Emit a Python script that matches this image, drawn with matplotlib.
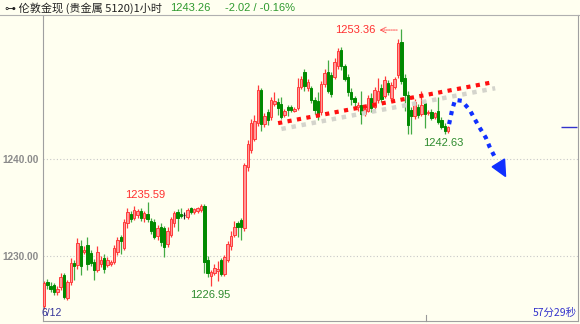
import matplotlib
matplotlib.use("Agg")
from matplotlib import pyplot as plt
from matplotlib.lines import Line2D
from matplotlib.patches import Polygon

plt.rcParams['font.family'] = ['Noto Sans CJK SC', 'DejaVu Sans']
NUM_FONT = ['Liberation Sans', 'DejaVu Sans']

# hourly candles (open, close, high, low)
opens = [1224.8, 1227.3, 1226.9, 1227.0, 1226.3, 1226.8, 1228.0, 1225.7, 1227.3, 1229.3,
         1229.1, 1231.0, 1230.4, 1231.1, 1230.3, 1229.4, 1228.6, 1229.2, 1229.8, 1229.1,
         1229.2, 1229.4, 1230.4, 1232.0, 1230.8, 1233.4, 1234.3, 1233.9, 1234.2, 1234.6,
         1233.9, 1234.3, 1233.6, 1233.5, 1232.1, 1233.0, 1232.9, 1231.2, 1232.2, 1233.4,
         1234.5, 1234.3, 1234.2, 1234.0, 1234.9, 1234.5, 1234.6, 1234.7, 1235.2, 1229.6,
         1227.9, 1228.3, 1228.5, 1229.6, 1228.1, 1229.6, 1231.0, 1232.2, 1233.4, 1233.7,
         1232.9, 1239.2, 1240.9, 1242.1, 1243.7, 1247.1, 1243.6, 1244.8, 1244.3, 1245.7,
         1245.9, 1245.7, 1244.5, 1245.4, 1245.4, 1245.0, 1245.3, 1247.4, 1249.0, 1247.3,
         1247.3, 1246.1, 1246.0, 1244.8, 1247.7, 1249.0, 1248.7, 1248.5, 1249.6, 1251.2,
         1249.6, 1248.5, 1246.9, 1246.3, 1245.4, 1245.6, 1244.6, 1245.0, 1246.3, 1245.4,
         1246.1, 1247.3, 1246.5, 1247.8, 1246.3, 1247.4, 1248.7, 1252.1, 1248.4, 1246.6,
         1245.1, 1244.4, 1245.4, 1244.6, 1245.8, 1244.7, 1244.9, 1244.3, 1245.0, 1244.0,
         1243.4, 1242.9]
closes = [1227.2, 1227.0, 1226.6, 1226.3, 1226.6, 1227.8, 1225.8, 1227.3, 1229.3, 1229.0,
          1231.3, 1229.0, 1230.6, 1229.2, 1229.3, 1228.6, 1230.4, 1229.6, 1228.7, 1229.6,
          1229.4, 1230.8, 1231.6, 1231.5, 1233.5, 1234.5, 1233.8, 1234.7, 1234.6, 1233.9,
          1234.4, 1233.8, 1232.6, 1232.0, 1232.9, 1231.4, 1230.9, 1232.6, 1233.8, 1234.4,
          1233.9, 1234.1, 1234.2, 1234.7, 1234.5, 1234.8, 1234.9, 1235.2, 1229.4, 1228.3,
          1228.4, 1228.8, 1228.7, 1228.1, 1229.9, 1231.2, 1232.1, 1233.0, 1233.0, 1233.0,
          1239.4, 1241.6, 1243.7, 1243.9, 1247.1, 1243.6, 1244.4, 1244.0, 1246.1, 1246.0,
          1245.3, 1244.3, 1245.0, 1245.1, 1245.1, 1245.2, 1247.4, 1248.3, 1247.5, 1247.9,
          1246.1, 1245.1, 1244.5, 1247.7, 1248.9, 1247.0, 1246.7, 1250.0, 1251.1, 1249.6,
          1248.3, 1246.9, 1246.2, 1245.9, 1245.6, 1244.6, 1245.2, 1246.3, 1245.3, 1247.1,
          1247.0, 1246.2, 1248.1, 1246.9, 1247.6, 1248.2, 1252.0, 1248.0, 1246.6, 1243.5,
          1244.4, 1245.9, 1244.5, 1245.6, 1244.6, 1244.9, 1244.2, 1244.7, 1243.8, 1243.3,
          1242.9, 1243.26]
highs = [1227.4, 1227.6, 1227.3, 1227.2, 1226.9, 1228.2, 1228.3, 1227.5, 1229.8, 1229.6,
         1231.9, 1231.6, 1231.0, 1232.0, 1230.6, 1229.7, 1231.0, 1230.0, 1230.2, 1229.9,
         1229.6, 1231.1, 1232.0, 1232.2, 1233.8, 1234.9, 1234.6, 1235.2, 1234.8, 1235.0,
         1234.6, 1235.59, 1233.9, 1233.8, 1233.2, 1233.4, 1233.1, 1233.0, 1234.0, 1234.6,
         1234.8, 1234.9, 1234.5, 1234.9, 1235.1, 1235.0, 1235.1, 1235.4, 1235.4, 1230.0,
         1228.6, 1229.2, 1229.5, 1229.8, 1230.1, 1231.5, 1232.6, 1233.6, 1233.6, 1233.9,
         1239.6, 1242.0, 1244.1, 1244.5, 1247.6, 1247.3, 1244.7, 1245.2, 1246.4, 1246.9,
         1246.3, 1246.4, 1245.2, 1245.6, 1245.6, 1245.4, 1248.4, 1248.6, 1249.3, 1248.3,
         1247.5, 1246.4, 1246.9, 1248.0, 1249.3, 1250.2, 1249.0, 1250.4, 1251.4, 1251.5,
         1249.8, 1248.8, 1247.3, 1246.5, 1245.9, 1247.0, 1245.5, 1246.6, 1246.8, 1247.4,
         1248.4, 1247.7, 1248.6, 1248.1, 1247.9, 1248.5, 1252.4, 1253.36, 1248.8, 1247.0,
         1245.4, 1246.2, 1245.7, 1247.0, 1246.1, 1245.1, 1245.2, 1244.9, 1246.4, 1244.3,
         1243.7, 1243.4]
lows = [1224.5, 1226.6, 1226.3, 1226.0, 1226.0, 1226.5, 1225.6, 1225.5, 1227.0, 1227.5,
        1228.7, 1228.0, 1230.2, 1228.6, 1229.0, 1227.5, 1228.4, 1228.9, 1228.2, 1228.9,
        1229.0, 1229.2, 1230.1, 1230.2, 1230.6, 1232.9, 1233.5, 1233.7, 1233.9, 1233.6,
        1233.5, 1233.5, 1232.3, 1231.8, 1231.6, 1231.0, 1229.9, 1230.9, 1232.0, 1233.0,
        1232.6, 1233.9, 1233.8, 1233.8, 1234.3, 1234.3, 1234.4, 1234.5, 1228.3, 1227.8,
        1226.95, 1228.0, 1227.4, 1227.9, 1227.9, 1229.4, 1230.6, 1232.0, 1232.0, 1231.6,
        1232.6, 1238.8, 1240.6, 1241.9, 1243.4, 1242.9, 1243.3, 1243.5, 1244.0, 1245.5,
        1244.5, 1244.1, 1244.3, 1244.4, 1244.8, 1244.8, 1245.1, 1247.2, 1247.0, 1247.0,
        1245.8, 1244.6, 1244.0, 1244.5, 1247.4, 1246.8, 1246.4, 1248.2, 1249.3, 1249.2,
        1248.0, 1246.5, 1245.6, 1245.4, 1245.0, 1243.6, 1244.4, 1244.8, 1244.9, 1245.2,
        1245.8, 1245.9, 1246.3, 1246.6, 1246.0, 1247.2, 1248.4, 1247.7, 1245.0, 1242.6,
        1242.6, 1244.1, 1244.2, 1244.4, 1243.2, 1244.5, 1244.0, 1244.1, 1243.6, 1243.1,
        1242.63, 1242.7]

last_price = 1243.26
title_name = "⊶ 伦敦金现 (贵金属 5120)1小时"
change_text = "-2.02 / -0.16%"
y_ticks = [1230, 1240]
y_labels = ["1230.00", "1240.00"]

# hand drawn overlays (bar index, price)
trend_x = [70.1, 134.1]
trend_y = [1243.7, 1247.9]
path_x = [121.3, 122.2, 123.1, 125.1, 127.5, 129.0, 130.5, 132.3, 133.5, 135.0]
path_y = [1243.6, 1245.05, 1246.1, 1246.0, 1245.05, 1244.1, 1243.2, 1242.2, 1241.2, 1240.2]
head_x = [134.2, 137.9, 138.2]
head_y = [1239.2, 1240.0, 1238.2]

BG = '#fffff0'
RED_EDGE = '#ff3b3b'
RED_FILL = '#ff9a9a'
GREEN = '#008a00'
GREEN_WICK = '#44aa44'

fig = plt.figure(figsize=(5.8, 3.24), dpi=100, facecolor=BG)
ax = fig.add_axes([43 / 580, 3 / 324, 535 / 580, 306 / 324], facecolor=BG)

W = 0.72
for i in range(len(opens)):
    o, c, h, l = opens[i], closes[i], highs[i], lows[i]
    up = c > o
    if c == o:
        ax.vlines(i, l, h, color='#222222', lw=0.8)
        ax.hlines(c, i - W / 2, i + W / 2, color='#222222', lw=1)
        continue
    ax.vlines(i, l, h, color=RED_EDGE if up else GREEN_WICK, lw=0.9, zorder=2)
    ax.bar(i, abs(c - o), bottom=min(o, c), width=W,
           color=RED_FILL if up else GREEN, edgecolor=RED_EDGE if up else GREEN,
           linewidth=0.7, zorder=3)

ax.set_xlim(-0.3, 159.9)
ax.set_ylim(1223.3, 1254.85)

for t in y_ticks:
    ax.axhline(t, color='#c8c8c8', lw=0.8, ls=(0, (1, 2)), zorder=1)
ax.set_yticks(y_ticks)
ax.set_yticklabels(y_labels, color='#8a8a8a', fontsize=7.2, fontweight='bold',
                   family=NUM_FONT)
ax.tick_params(axis='y', length=0, pad=3)
ax.set_xticks([])
for s in ['left', 'right', 'bottom']:
    ax.spines[s].set_color('#a0a0a0')
ax.spines['top'].set_visible(False)

# current price marker
ax.hlines(last_price, 154.8, 159.5, color='#3333cc', lw=1)

# high / low labels
ax.text(99.4, 1253.3, "1253.36", color='#ff3030', fontsize=8, ha='right', va='center',
        family=NUM_FONT)
ax.annotate('', xy=(99.6, 1253.3), xytext=(106.6, 1253.3),
            arrowprops=dict(arrowstyle='->', color='#ff5050', lw=0.7, ls=(0, (1.5, 1))))
ax.text(30.2, 1236.3, "1235.59", color='#ff3030', fontsize=8, ha='center', va='center',
        family=NUM_FONT)
ax.text(49.7, 1226.0, "1226.95", color='#2e8b2e', fontsize=8, ha='center', va='center',
        family=NUM_FONT)
ax.text(119.5, 1241.65, "1242.63", color='#2e8b2e', fontsize=8, ha='center', va='center',
        family=NUM_FONT)

# trend line with soft shadow
ax.plot([x + 1.0 for x in trend_x], [y - 0.6 for y in trend_y], color='#d4d4cc',
        lw=3.2, ls=(0, (1, 1.3)), solid_capstyle='butt', zorder=4)
ax.plot(trend_x, trend_y, color='#ff1010', lw=3.0, ls=(0, (1, 1.3)),
        solid_capstyle='butt', zorder=5)

# forecast arrow
ax.plot(path_x, path_y, color='#1030ff', lw=3.0, ls=(0, (1, 1.2)), zorder=6)
ax.add_patch(Polygon(list(zip(head_x, head_y)), closed=True, color='#1030ff', zorder=6))

# header
fig.add_artist(Line2D([0, 1], [1 - 15 / 324, 1 - 15 / 324], color='#b0b0b0', lw=0.8))
fig.text(5 / 580, 1 - 8 / 324, title_name, fontsize=8, color='#222222', va='center')
fig.text(170 / 580, 1 - 8 / 324, f"{last_price:.2f}", fontsize=8, color='#2e9a2e',
         va='center', family=NUM_FONT)
fig.text(225 / 580, 1 - 8 / 324, change_text, fontsize=8, color='#2e9a2e',
         va='center', family=NUM_FONT)

# footer
fig.text(42 / 580, 1 - 313 / 324, "6/12", fontsize=7.5, color='#333399', va='center',
         family=NUM_FONT)
fig.text(577 / 580, 1 - 313 / 324, "57分29秒", fontsize=7.5, color='#3333cc',
         va='center', ha='right')
fig.add_artist(Line2D([426 / 580, 426 / 580], [3 / 324, 9 / 324], color='#999999', lw=0.8))

fig.savefig('out.png', dpi=100, facecolor=BG)
